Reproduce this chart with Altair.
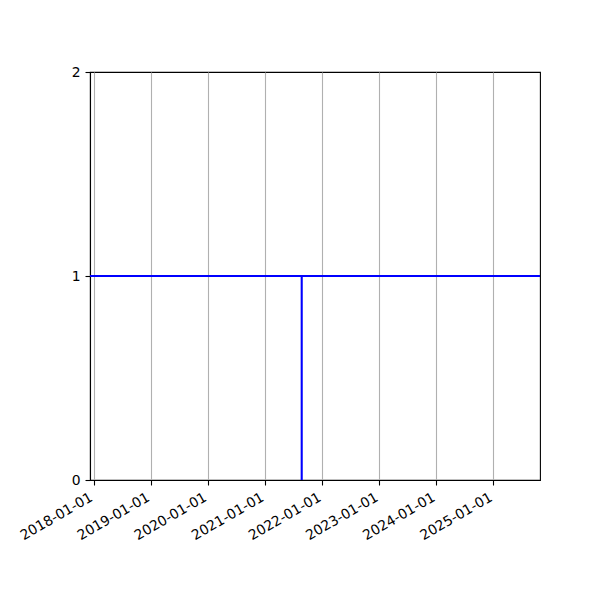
import altair as alt
import pandas as pd

# data
x_domain = ["2017-12-09", "2025-10-26"]
x_ticks = ["2018-01-01", "2019-01-01", "2020-01-01", "2021-01-01",
           "2022-01-01", "2023-01-01", "2024-01-01", "2025-01-01"]
y_ticks = [0, 1, 2]
seg_x = ["2017-12-09", "2021-08-24"]
seg_x2 = ["2025-10-26", "2021-08-24"]
seg_y = [1, 0]
seg_y2 = [1, 1]

def dt(s):
    y, m, d = [int(p) for p in s.split("-")]
    return alt.DateTime(year=y, month=m, date=d, utc=True)

df = pd.DataFrame({"x": seg_x, "x2": seg_x2, "y": seg_y, "y2": seg_y2})

xscale = alt.Scale(type="utc", domain=[dt(s) for s in x_domain])
yscale = alt.Scale(domain=[0, 2], nice=False, zero=False)

xaxis = alt.Axis(values=[dt(s) for s in x_ticks], format="%Y-%m-%d",
                 labelAngle=-30, labelAlign="right", labelBaseline="top",
                 labelOffset=-6, labelPadding=5,
                 grid=True, gridColor="#b0b0b0", gridWidth=1.1, title=None,
                 labelOverlap=False)
yaxis = alt.Axis(values=y_ticks, grid=False, title=None, format="~g",
                 labelOverlap=False, labelFlush=False, labelPadding=5)

chart = alt.Chart(df).mark_rule(color="#0000ff", strokeWidth=2.1).encode(
    x=alt.X("x:T", scale=xscale, axis=xaxis),
    x2="x2:T",
    y=alt.Y("y:Q", scale=yscale, axis=yaxis),
    y2="y2:Q",
).properties(
    width=450, height=408,
    autosize="none",
    background="white",
    padding={"left": 82, "top": 64, "right": 52, "bottom": 112},
).configure_view(
    stroke="black", strokeWidth=1.1
).configure_axis(
    domainColor="black", domainWidth=1.1, tickColor="black", tickSize=5,
    tickWidth=1.1, labelColor="black", labelFont="DejaVu Sans",
    labelFontSize=13.9,
)

chart.save("out.html", embed_options={"renderer": "svg", "actions": False})
